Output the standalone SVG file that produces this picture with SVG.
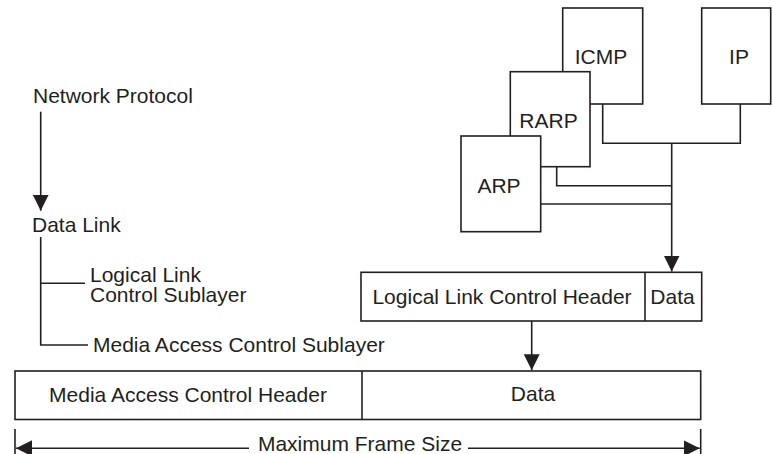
<svg xmlns="http://www.w3.org/2000/svg" width="772" height="454" viewBox="0 0 772 454">
  <style>
    .box { fill: #ffffff; stroke: #231f20; stroke-width: 1.6; }
    .ln { fill: none; stroke: #231f20; stroke-width: 1.6; }
    .t { font-family: "Liberation Sans", Arial, Helvetica, sans-serif; font-size: 21px; fill: #231f20; }
    .c { text-anchor: middle; }
  </style>
  <defs>
    <marker id="ah" viewBox="0 0 16 16" refX="16" refY="8" markerWidth="16" markerHeight="16" markerUnits="userSpaceOnUse" orient="auto-start-reverse">
      <path d="M0,0 L16,8 L0,16 z" fill="#231f20"/>
    </marker>
  </defs>

  <rect width="772" height="454" fill="#ffffff"/>

  <!-- left hierarchy -->
  <g id="network-protocol">
    <text class="t" x="33" y="103">Network Protocol</text>
  </g>
  <g id="data-link">
    <text class="t" x="32" y="232">Data Link</text>
  </g>
  <g id="llc-sublayer">
    <text class="t" x="90" y="281.5"><tspan x="90" y="281.5">Logical Link</tspan><tspan x="90" y="301.5">Control Sublayer</tspan></text>
  </g>
  <g id="mac-sublayer">
    <text class="t" x="93" y="352">Media Access Control Sublayer</text>
  </g>

  <!-- protocol boxes -->
  <g id="icmp">
    <rect class="box" x="562.7" y="8" width="80" height="96"/>
    <text class="t c" x="601" y="63.5">ICMP</text>
  </g>
  <g id="ip">
    <rect class="box" x="701.7" y="8" width="69" height="96"/>
    <text class="t c" x="739" y="63.5">IP</text>
  </g>
  <g id="rarp">
    <rect class="box" x="510.3" y="71.7" width="79.7" height="95"/>
    <text class="t c" x="548.5" y="127.8">RARP</text>
  </g>
  <g id="arp">
    <rect class="box" x="461" y="136" width="79.7" height="95.7"/>
    <text class="t c" x="499" y="192.5">ARP</text>
  </g>

  <!-- LLC frame -->
  <g id="llc-frame">
    <rect class="box" x="361" y="272.3" width="340.7" height="48.7"/>
    <line class="ln" x1="645" y1="272.3" x2="645" y2="321"/>
    <text class="t c" x="502" y="303.5">Logical Link Control Header</text>
    <text class="t c" x="672.5" y="303.5">Data</text>
  </g>

  <!-- MAC frame -->
  <g id="mac-frame">
    <rect class="box" x="15" y="371" width="685.7" height="48.5"/>
    <line class="ln" x1="362" y1="371" x2="362" y2="419.5"/>
    <text class="t c" x="188" y="402">Media Access Control Header</text>
    <text class="t c" x="533" y="400.5">Data</text>
  </g>

  <!-- dimension -->
  <g id="frame-size">
    <line class="ln" x1="15" y1="429" x2="15" y2="454"/>
    <line class="ln" x1="700.7" y1="429" x2="700.7" y2="454"/>
    <text class="t c" x="360" y="450.5">Maximum Frame Size</text>
  </g>

  <!-- connectors -->
  <g id="connectors">
    <line class="ln" x1="40.7" y1="111.7" x2="40.7" y2="210.7" marker-end="url(#ah)"/>
    <polyline class="ln" points="40.7,237 40.7,345 88,345"/>
    <line class="ln" x1="40.7" y1="283.3" x2="85" y2="283.3"/>

    <polyline class="ln" points="602.7,104 602.7,143.3 740.3,143.3 740.3,104"/>
    <polyline class="ln" points="556.7,166.7 556.7,185.7 671.7,185.7"/>
    <line class="ln" x1="540.7" y1="204" x2="671.7" y2="204"/>
    <line class="ln" x1="671.7" y1="143.3" x2="671.7" y2="271.5" marker-end="url(#ah)"/>

    <line class="ln" x1="531.7" y1="321" x2="531.7" y2="370.2" marker-end="url(#ah)"/>

    <line class="ln" x1="16" y1="448.3" x2="249" y2="448.3" marker-start="url(#ah)"/>
    <line class="ln" x1="468" y1="448.3" x2="699.7" y2="448.3" marker-end="url(#ah)"/>
  </g>
</svg>
